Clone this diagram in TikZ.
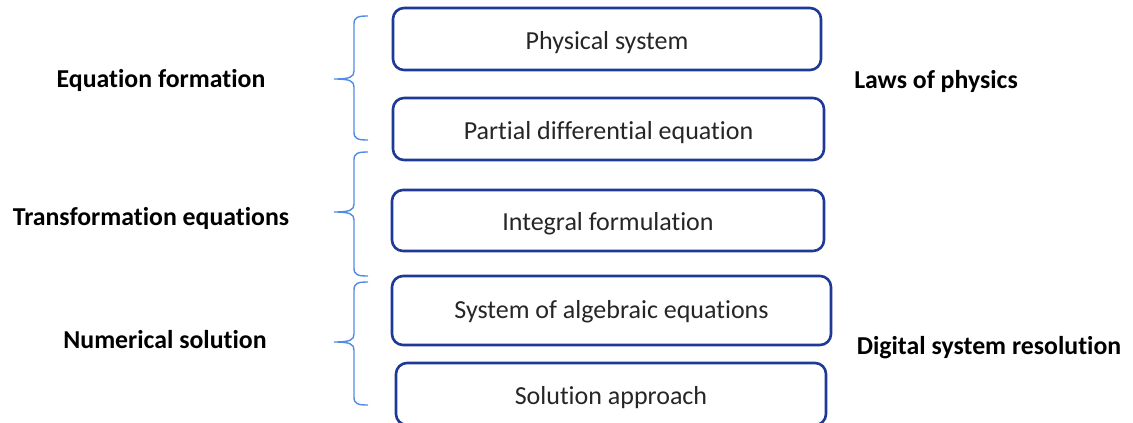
\documentclass[tikz,border=0pt]{standalone}
\usepackage{fontspec}
\setmainfont[Ligatures={NoCommon}]{Carlito}
\definecolor{boxblue}{RGB}{30,58,150}
\definecolor{braceblue}{RGB}{80,140,230}
\begin{document}
\begin{tikzpicture}[x=1pt,y=-1pt,
  stepbox/.style={draw=boxblue,line width=2.6pt,rounded corners=11pt,fill=white,
    inner sep=0pt,font=\fontsize{26}{30}\selectfont,text=black!85,
    text height=21pt,text depth=0pt},
  sidelabel/.style={font=\fontsize{25.8}{30}\selectfont\bfseries,text=black,inner sep=0pt},
  bracestyle/.style={draw=braceblue,line width=1.4pt}]
\useasboundingbox (0,0) rectangle (1133,423);
% boxes
\node[stepbox,minimum width=428pt,minimum height=62pt] (b1) at (607,39) {Physical system};
\node[stepbox,minimum width=431pt,minimum height=62pt,text height=20pt] (b2) at (608.5,129) {Partial differential equation};
\node[stepbox,minimum width=432pt,minimum height=61pt,text height=20.5pt] (b3) at (608,220.5) {Integral formulation};
\node[stepbox,minimum width=439pt,minimum height=69pt,text height=15.5pt] (b4) at (611.5,310.5) {System of algebraic equations};
\node[stepbox,minimum width=430pt,minimum height=62pt] (b5) at (611,394) {Solution approach};
% braces
\foreach \t/\m/\b in {16/79/140, 152/212/276, 282/342/405}{
  \draw[bracestyle] (368,\t) .. controls (358,\t) and (354,\t+1) .. (354,\t+8)
    -- (354,\m-8) .. controls (354,\m-2) and (350,\m) .. (334,\m)
    .. controls (350,\m) and (354,\m+2) .. (354,\m+8)
    -- (354,\b-8) .. controls (354,\b-1) and (358,\b) .. (368,\b);
}
% side labels
\node[sidelabel] (l1) at (161,80) {Equation formation};
\node[sidelabel] (l2) at (151,218) {Transformation equations};
\node[sidelabel] (l3) at (165,340) {Numerical solution};
\node[sidelabel] (r1) at (936,81) {Laws of physics};
\node[sidelabel] (r2) at (989,348) {Digital system resolution};
\end{tikzpicture}
\end{document}
